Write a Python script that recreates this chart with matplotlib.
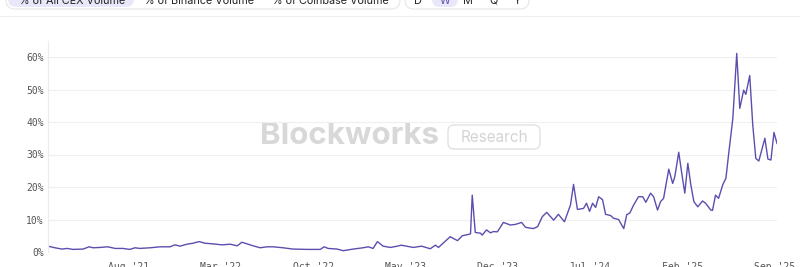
import matplotlib
matplotlib.use("Agg")
import matplotlib.pyplot as plt
import matplotlib.dates as mdates
from matplotlib.patches import FancyBboxPatch
import pandas as pd

dates = [
    "2021-01-26", "2021-02-11", "2021-02-27", "2021-03-11", "2021-03-25", "2021-04-17",
    "2021-05-01", "2021-05-10", "2021-05-26", "2021-06-13", "2021-06-30", "2021-07-18",
    "2021-08-03", "2021-08-15", "2021-08-26", "2021-09-19", "2021-10-12", "2021-11-04",
    "2021-11-15", "2021-11-27", "2021-12-13", "2021-12-27", "2022-01-10", "2022-01-24",
    "2022-02-11", "2022-03-04", "2022-03-23", "2022-04-08", "2022-04-19", "2022-05-01",
    "2022-05-15", "2022-05-31", "2022-06-16", "2022-06-30", "2022-07-23", "2022-08-15",
    "2022-09-17", "2022-10-17", "2022-10-26", "2022-11-04", "2022-11-25", "2022-12-09",
    "2023-01-01", "2023-01-24", "2023-02-05", "2023-02-16", "2023-02-26", "2023-03-11",
    "2023-03-28", "2023-04-13", "2023-04-22", "2023-05-13", "2023-05-20", "2023-06-08",
    "2023-06-28", "2023-07-10", "2023-07-17", "2023-08-13", "2023-08-30", "2023-09-10",
    "2023-09-24", "2023-09-29", "2023-10-03", "2023-10-10", "2023-10-22", "2023-10-26",
    "2023-11-05", "2023-11-14", "2023-11-21", "2023-11-30", "2023-12-14", "2023-12-30",
    "2024-01-11", "2024-01-25", "2024-02-03", "2024-02-21", "2024-03-02", "2024-03-13",
    "2024-03-23", "2024-04-08", "2024-04-19", "2024-05-03", "2024-05-17", "2024-05-24",
    "2024-06-02", "2024-06-16", "2024-06-23", "2024-06-30", "2024-07-07", "2024-07-14",
    "2024-07-21", "2024-07-30", "2024-08-06", "2024-08-18", "2024-08-24", "2024-09-05",
    "2024-09-17", "2024-09-24", "2024-10-01", "2024-10-10", "2024-10-21", "2024-10-31",
    "2024-11-07", "2024-11-18", "2024-11-25", "2024-12-04", "2024-12-11", "2024-12-18",
    "2024-12-30", "2025-01-08", "2025-01-13", "2025-01-22", "2025-01-29", "2025-02-05",
    "2025-02-12", "2025-02-19", "2025-02-26", "2025-03-07", "2025-03-18", "2025-03-25",
    "2025-04-06", "2025-04-10", "2025-04-17", "2025-04-24", "2025-05-04", "2025-05-11",
    "2025-05-17", "2025-05-27", "2025-06-05", "2025-06-12", "2025-06-21", "2025-06-26",
    "2025-07-05", "2025-07-12", "2025-07-19", "2025-07-26", "2025-08-09", "2025-08-16",
    "2025-08-23", "2025-08-30", "2025-09-06",
]
share_pct = [
    1.8, 1.3, 0.9, 1.1, 0.8, 0.9,
    1.6, 1.3, 1.4, 1.6, 1.1, 1.1,
    0.8, 1.3, 1.1, 1.3, 1.6, 1.6,
    2.2, 1.8, 2.4, 2.7, 3.2, 2.7,
    2.5, 2.2, 2.4, 1.9, 3.0, 2.5,
    1.9, 1.3, 1.6, 1.6, 1.3, 0.9,
    0.8, 0.8, 1.6, 1.1, 0.9, 0.4,
    0.9, 1.3, 1.6, 1.1, 3.2, 1.8,
    1.4, 1.8, 2.1, 1.6, 1.4, 1.8,
    1.0, 2.1, 1.4, 4.7, 3.5, 5.0,
    5.4, 5.6, 17.5, 6.0, 5.8, 5.2,
    6.8, 5.9, 6.3, 6.2, 9.1, 8.3,
    8.5, 9.1, 7.6, 7.2, 7.8, 10.9,
    12.2, 9.8, 11.6, 9.3, 14.5, 20.8,
    13.1, 13.4, 15.0, 12.5, 15.0, 13.7,
    17.0, 16.1, 11.6, 11.2, 10.4, 10.0,
    7.2, 11.5, 12.0, 14.5, 17.0, 17.0,
    15.3, 18.1, 17.0, 12.9, 15.5, 16.5,
    25.5, 21.1, 23.2, 30.7, 24.2, 18.1,
    27.3, 20.6, 15.5, 13.9, 15.7, 15.0,
    12.9, 12.8, 17.5, 16.5, 20.8, 22.7,
    29.8, 41.1, 61.1, 44.2, 49.8, 48.5,
    54.3, 39.1, 28.8, 28.0, 35.0, 28.6,
    28.3, 36.8, 33.4,
]
x_ticks = ["2021-08-01", "2022-03-01", "2022-10-01", "2023-05-01",
           "2023-12-01", "2024-07-01", "2025-02-01", "2025-09-01"]
y_ticks = [0, 10, 20, 30, 40, 50, 60]
metric_tabs = ["% of All CEX Volume", "% of Binance Volume", "% of Coinbase Volume"]
period_tabs = ["D", "W", "M", "Q", "Y"]

W, H = 800, 267
fig = plt.figure(figsize=(W / 100, H / 100), dpi=100)
fig.patch.set_facecolor("white")

# overlay in pixel coordinates (UI chrome + watermark)
ov = fig.add_axes([0, 0, 1, 1], zorder=0)
ov.set_xlim(0, W)
ov.set_ylim(H, 0)
ov.axis("off")

ui_font = ["Inter", "DejaVu Sans"]
# tab groups
ov.add_patch(FancyBboxPatch((6, -20), 394, 29, boxstyle="round,pad=0,rounding_size=9",
                            fc="white", ec="#e6e6e6", lw=0.8))
ov.add_patch(FancyBboxPatch((8, -20), 126, 27, boxstyle="round,pad=0,rounding_size=8",
                            fc="#e9e7fa", ec="none"))
ov.add_patch(FancyBboxPatch((405, -20), 124, 29, boxstyle="round,pad=0,rounding_size=9",
                            fc="white", ec="#e6e6e6", lw=0.8))
ov.add_patch(FancyBboxPatch((432, -20), 26, 27, boxstyle="round,pad=0,rounding_size=8",
                            fc="#e9e7fa", ec="none"))
tab_x = [72, 199, 330]
for t, x in zip(metric_tabs, tab_x):
    ov.text(x, 4.0, t, ha="center", va="baseline", fontsize=7.8, color="#222222",
            family=ui_font)
per_x = [418, 445, 468, 493, 517]
for t, x in zip(period_tabs, per_x):
    ov.text(x, 4.0, t, ha="center", va="baseline", fontsize=7.8,
            color="#5a4fb0" if t == "W" else "#222222", family=ui_font)
ov.plot([0, W], [16, 16], color="#eeeeee", lw=0.8)

# watermark
ov.text(349, 136, "Blockworks", ha="center", va="center", fontsize=22.5, fontweight="bold",
        color="#d8d8d8", family=ui_font)
ov.add_patch(FancyBboxPatch((448, 125), 92, 24, boxstyle="round,pad=0,rounding_size=6",
                            fc="none", ec="#e2e2e2", lw=1.0))
ov.text(494, 137.5, "Research", ha="center", va="center", fontsize=11,
        color="#d4d4d4", family=ui_font)

# main chart
x0, x1 = 48, 777
y_zero, px_per_pct = 252, 3.25
ytop = 65
ax = fig.add_axes([x0 / W, (H - y_zero) / H, (x1 - x0) / W, ytop * px_per_pct / H], zorder=1)
ax.patch.set_alpha(0)

d = pd.to_datetime(dates)
ax.plot(d, share_pct, color="#5a4fae", lw=1.0, solid_joinstyle="round")
ax.set_xlim(d[0], d[-1])
ax.set_ylim(0, ytop)

ax.set_yticks(y_ticks)
ax.set_yticklabels([f"{v}%" for v in y_ticks])
xt = pd.to_datetime(x_ticks)
ax.set_xticks(xt)
ax.xaxis.set_major_formatter(mdates.DateFormatter("%b '%y"))

ax.grid(axis="y", color="#efefef", lw=0.8)
ax.set_axisbelow(True)
for s in ["top", "right", "bottom"]:
    ax.spines[s].set_visible(False)
ax.spines["left"].set_color("#ececec")
ax.spines["left"].set_linewidth(0.8)
ax.tick_params(axis="both", length=0, labelsize=7, colors="#555555")
ax.tick_params(axis="y", pad=3)
ax.tick_params(axis="x", pad=7)
for lab in ax.get_xticklabels() + ax.get_yticklabels():
    lab.set_family("DejaVu Sans Mono")

fig.savefig("out.png", dpi=100)
